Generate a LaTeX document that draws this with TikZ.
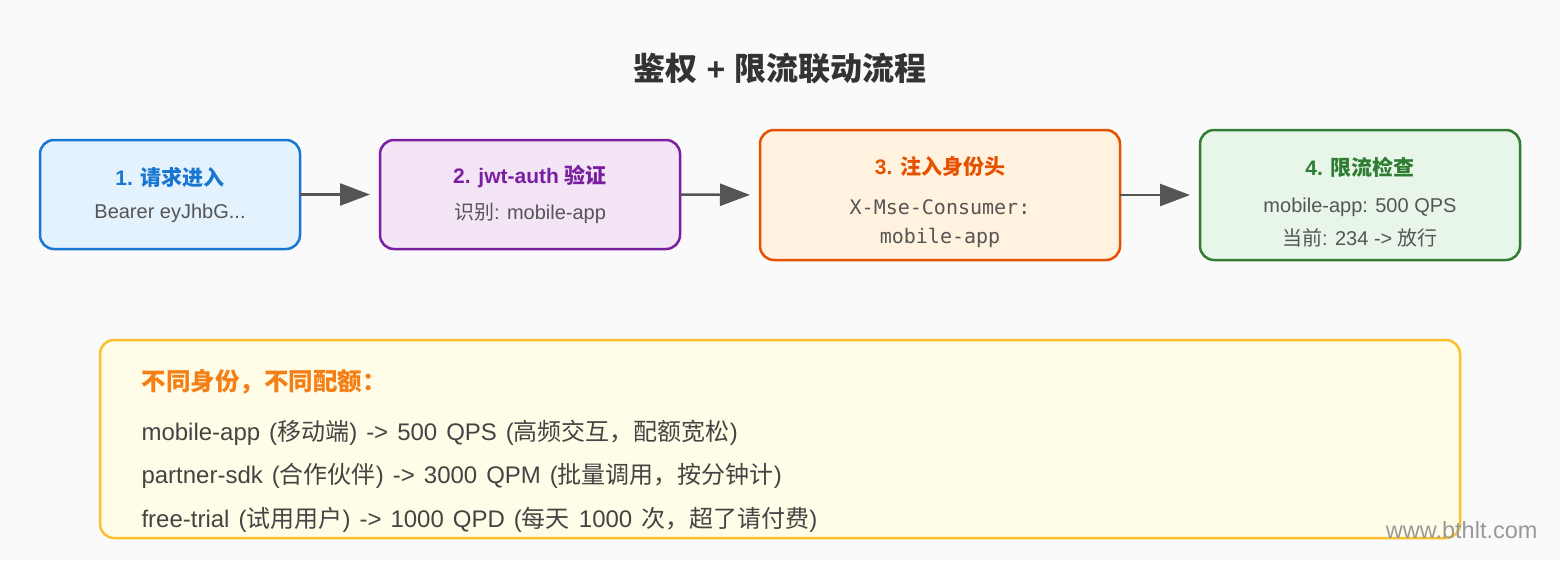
\documentclass[tikz,border=0pt]{standalone}
\usepackage{fontspec}
\setmainfont{Liberation Sans}
\newfontfamily\cjk{Noto Sans CJK SC}
\newfontfamily\monof{DejaVu Sans Mono}
\newcommand\zh[1]{{\cjk #1}}
\newcommand\widesp{\spaceskip=9pt plus 2pt\relax}
\usetikzlibrary{arrows.meta}
\definecolor{bg}{HTML}{FAFAFA}
\definecolor{txt}{HTML}{555555}
\definecolor{darktxt}{HTML}{444444}
\definecolor{bluec}{HTML}{1976D2}\definecolor{bluef}{HTML}{E3F2FD}
\definecolor{purc}{HTML}{7B1FA2}\definecolor{purf}{HTML}{F3E5F5}
\definecolor{orc}{HTML}{E65100}\definecolor{orf}{HTML}{FFF3E0}
\definecolor{grc}{HTML}{2E7D32}\definecolor{grf}{HTML}{E8F5E9}
\definecolor{yc}{HTML}{FBC02D}\definecolor{yf}{HTML}{FFFDE7}
\definecolor{yt}{HTML}{F57F17}
\definecolor{arr}{HTML}{555555}
\tikzset{
  stepbox/.style={draw, line width=2.5pt, rounded corners=14pt, inner sep=0pt},
  ttl/.style={font=\fontsize{21}{25}\selectfont\bfseries, anchor=center},
  sub/.style={font=\fontsize{20}{24}\selectfont, text=txt, anchor=center},
  mono/.style={font=\monof\fontsize{20}{24}\selectfont, text=txt, anchor=center},
  flow/.style={draw=arr, line width=2.5pt, -{Triangle[length=30pt,width=22pt]}},
  line/.style={font=\fontsize{24}{28}\selectfont, text=darktxt, anchor=west},
}
\begin{document}
\begin{tikzpicture}[x=1pt,y=-1pt]
\fill[bg] (0,0) rectangle (1560,560);
\useasboundingbox (0,0) rectangle (1560,560);
\node[font=\fontsize{32}{38}\selectfont\bfseries, text=black!80] (title) at (780,68) {\zh{鉴权} + \zh{限流联动流程}};

\draw[stepbox, draw=bluec, fill=bluef] (40,140) rectangle (300,249);
\coordinate (b1w) at (40,194.5); \coordinate (b1e) at (300,194.5);
\node[ttl, text=bluec] (t1) at (170,177) {1. \zh{请求进入}};
\node[sub] (s1) at (170,213) {Bearer eyJhbG...};

\draw[stepbox, draw=purc, fill=purf] (380,140) rectangle (680,249);
\coordinate (b2w) at (380,194.5); \coordinate (b2e) at (680,194.5);
\node[ttl, text=purc] (t2) at (530,177) {2. jwt-auth \zh{验证}};
\node[sub] (s2) at (530,213) {\zh{识别}: mobile-app};

\draw[stepbox, draw=orc, fill=orf] (760,130) rectangle (1120,260);
\coordinate (b3w) at (760,195); \coordinate (b3e) at (1120,195);
\node[ttl, text=orc] (t3) at (940,167) {3. \zh{注入身份头}};
\node[mono] (s3a) at (940,207) {X-Mse-Consumer:};
\node[mono] (s3b) at (940,238) {mobile-app};

\draw[stepbox, draw=grc, fill=grf] (1200,130) rectangle (1520,260);
\coordinate (b4w) at (1200,195);
\node[ttl, text=grc] (t4) at (1360,167) {4. \zh{限流检查}};
\node[sub] (s4a) at (1360,207) {mobile-app: 500 QPS};
\node[sub] (s4b) at (1360,238) {\zh{当前}: 234 -> \zh{放行}};

\draw[flow, shorten >=10pt] (b1e) -- (b2w);
\draw[flow, shorten >=10pt] (b2e) -- (b3w);
\draw[flow, shorten >=10pt] (b3e) -- (b4w);

\draw[stepbox, draw=yc, fill=yf] (100,340) rectangle (1460,538);
\node[font=\fontsize{24.5}{29}\selectfont\bfseries, text=yt, anchor=west] (nt) at (138,382) {\zh{不同身份，不同配额：}};
\node[line] (l1) at (138,433) {\widesp mobile-app (\zh{移动端}) -> 500 QPS (\zh{高频交互，配额宽松})};
\node[line] (l2) at (138,476) {\widesp partner-sdk (\zh{合作伙伴}) -> 3000 QPM (\zh{批量调用，按分钟计})};
\node[line] (l3) at (138,520) {\widesp free-trial (\zh{试用用户}) -> 1000 QPD (\zh{每天} 1000 \zh{次，超了请付费})};

\node[font=\fontsize{23.5}{27}\selectfont, text=black!40, anchor=east] (wm) at (1541,530) {www.bthlt.com};
\end{tikzpicture}
\end{document}
